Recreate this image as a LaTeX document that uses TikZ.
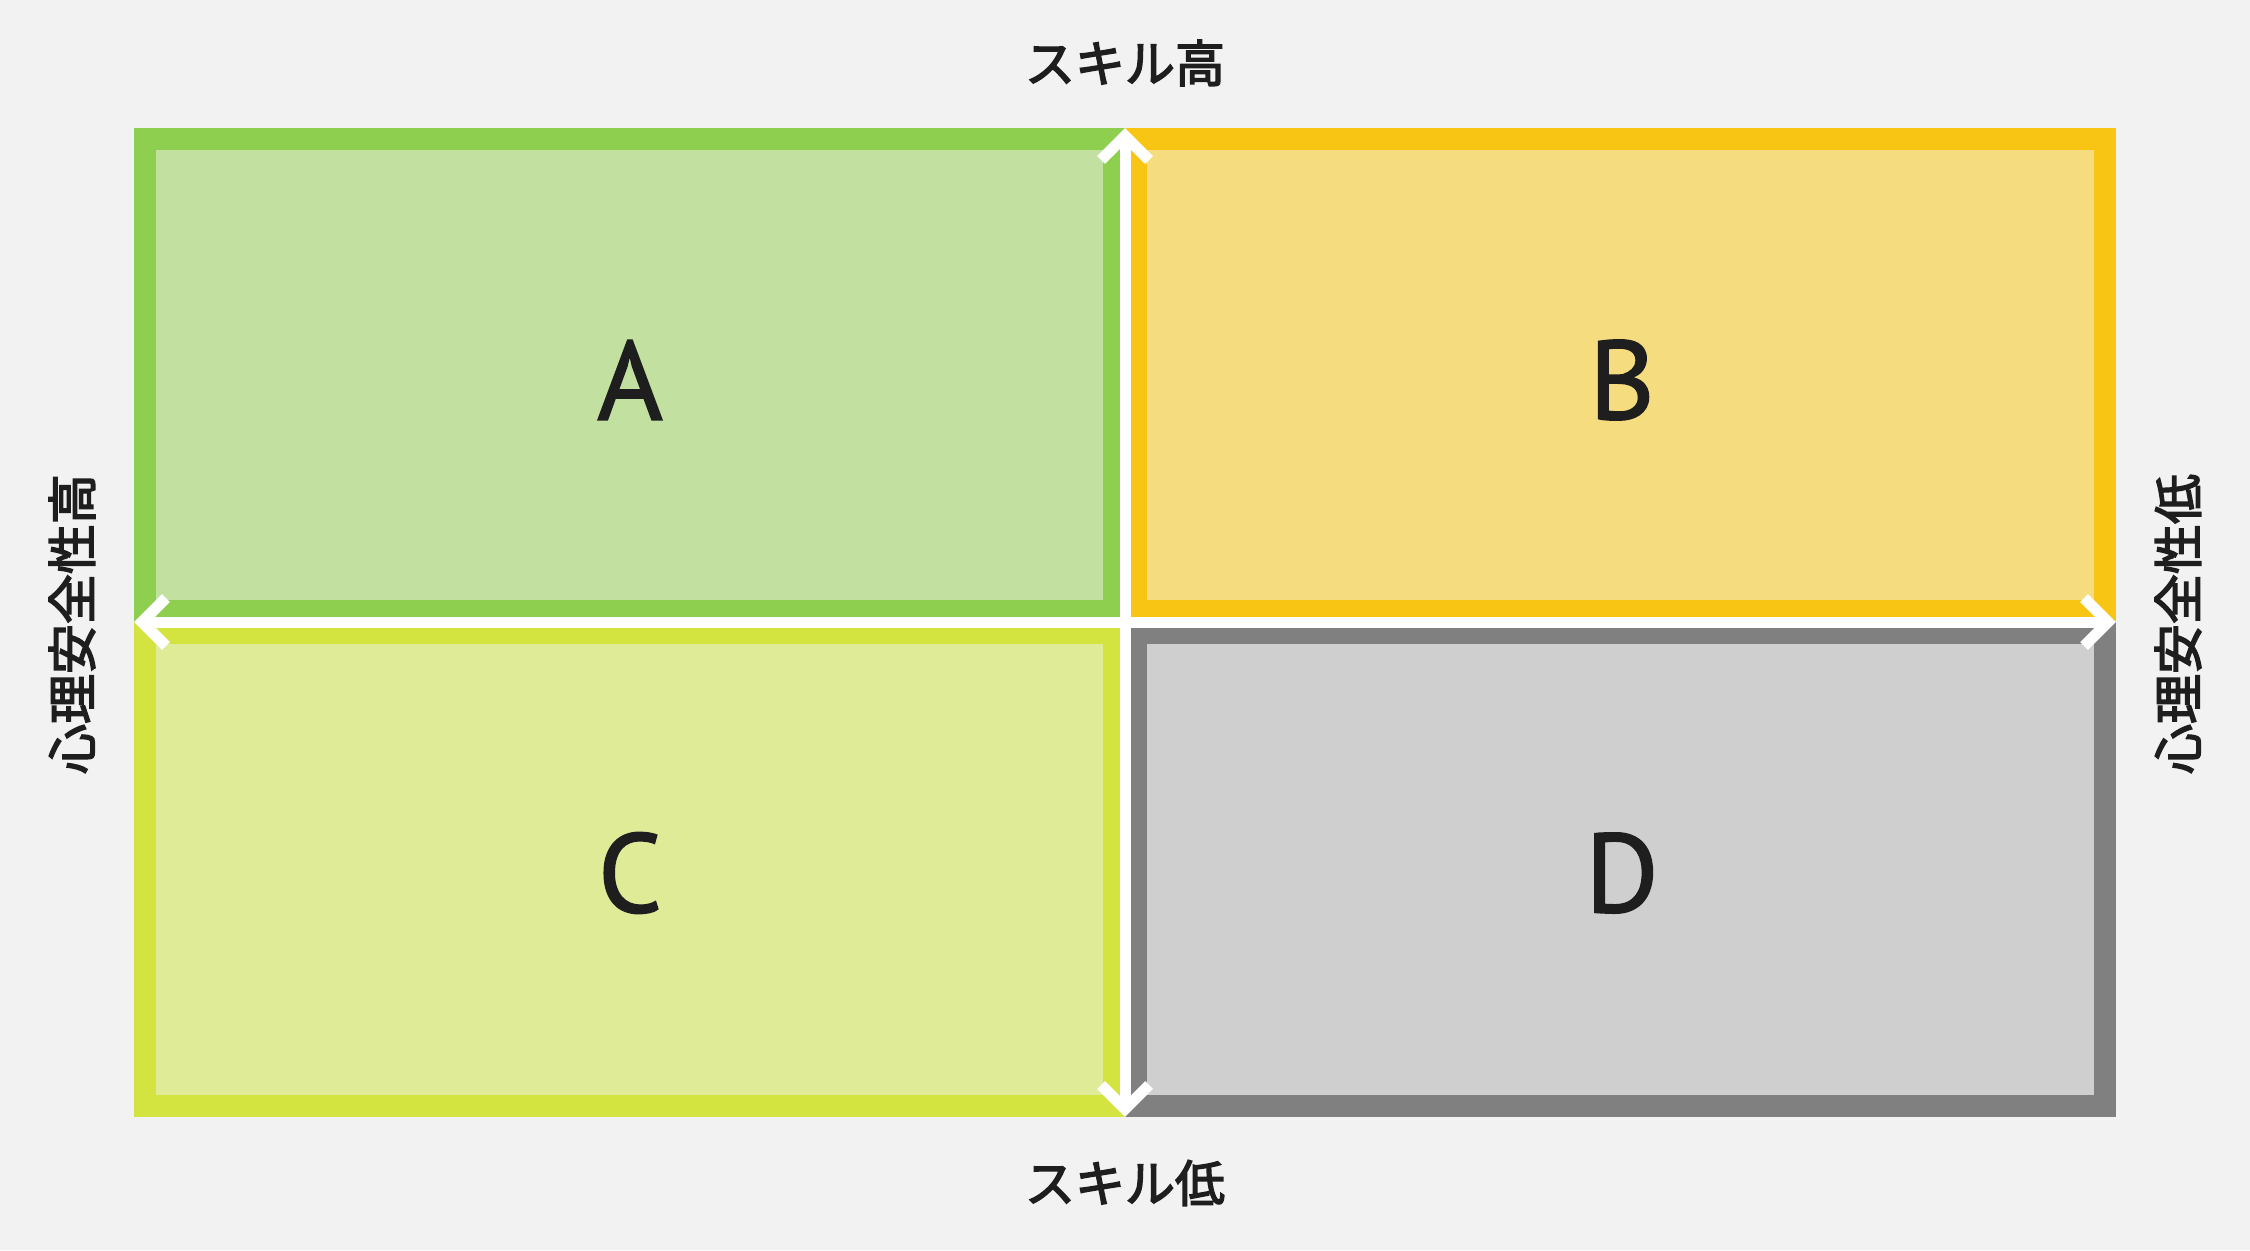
\documentclass[tikz,border=0pt]{standalone}
\usepackage{fontspec}
\setmainfont{PT Sans}[FakeBold=1.5]
\newfontfamily\cjk{Noto Sans CJK JP}[FakeBold=3]
\definecolor{bg}{HTML}{F2F2F2}
\definecolor{aBorder}{HTML}{8FCF50}
\definecolor{aFill}{HTML}{C2E1A0}
\definecolor{bBorder}{HTML}{F8C514}
\definecolor{bFill}{HTML}{F5DC7E}
\definecolor{cBorder}{HTML}{D3E441}
\definecolor{cFill}{HTML}{DFEB96}
\definecolor{dBorder}{HTML}{808080}
\definecolor{dFill}{HTML}{CFCFCF}
\definecolor{ink}{HTML}{1E1E1E}
\begin{document}
\begin{tikzpicture}[x=1pt,y=-1pt,
  quad/.style={line width=22pt},
  axis/.style={draw=white,line width=11pt},
  chev/.style={draw=white,line width=11pt,line join=miter,miter limit=10},
  letter/.style={font=\fontsize{112}{112}\selectfont,text=ink,inner sep=0pt},
  lab/.style={font=\cjk\fontsize{50}{50}\selectfont,text=ink,inner sep=0pt}]
\fill[bg] (0,0) rectangle (2250,1250);
\useasboundingbox (0,0) rectangle (2250,1250);
% quadrants
\draw[quad,draw=aBorder,fill=aFill] (145,139) rectangle (1114,611);
\draw[quad,draw=bBorder,fill=bFill] (1136,139) rectangle (2105,611);
\draw[quad,draw=cBorder,fill=cFill] (145,633) rectangle (1114,1106);
\draw[quad,draw=dBorder,fill=dFill] (1136,633) rectangle (2105,1106);
% axis coordinates
\coordinate (top) at (1125,136);
\coordinate (bot) at (1125,1109);
\coordinate (lft) at (142,622);
\coordinate (rgt) at (2108,622);
\draw[axis] (top) -- (bot);
\draw[axis] (lft) -- (rgt);
\draw[chev] ([shift={(-24,24)}]top) -- (top) -- ([shift={(24,24)}]top);
\draw[chev] ([shift={(-24,-24)}]bot) -- (bot) -- ([shift={(24,-24)}]bot);
\draw[chev] ([shift={(24,-24)}]lft) -- (lft) -- ([shift={(24,24)}]lft);
\draw[chev] ([shift={(-24,-24)}]rgt) -- (rgt) -- ([shift={(-24,24)}]rgt);
% letters
\node[letter] (A) at (630,380) {A};
\node[letter] (B) at (1622,380) {B};
\node[letter] (C) at (630,873) {C};
\node[letter] (D) at (1622,873) {D};
% labels
\node[lab] (skh) at (1125,63) {スキル高};
\node[lab] (skl) at (1125,1183) {スキル低};
\node[lab,rotate=90] (psh) at (72,624) {心理安全性高};
\node[lab,rotate=90] (psl) at (2178,624) {心理安全性低};
\end{tikzpicture}
\end{document}
